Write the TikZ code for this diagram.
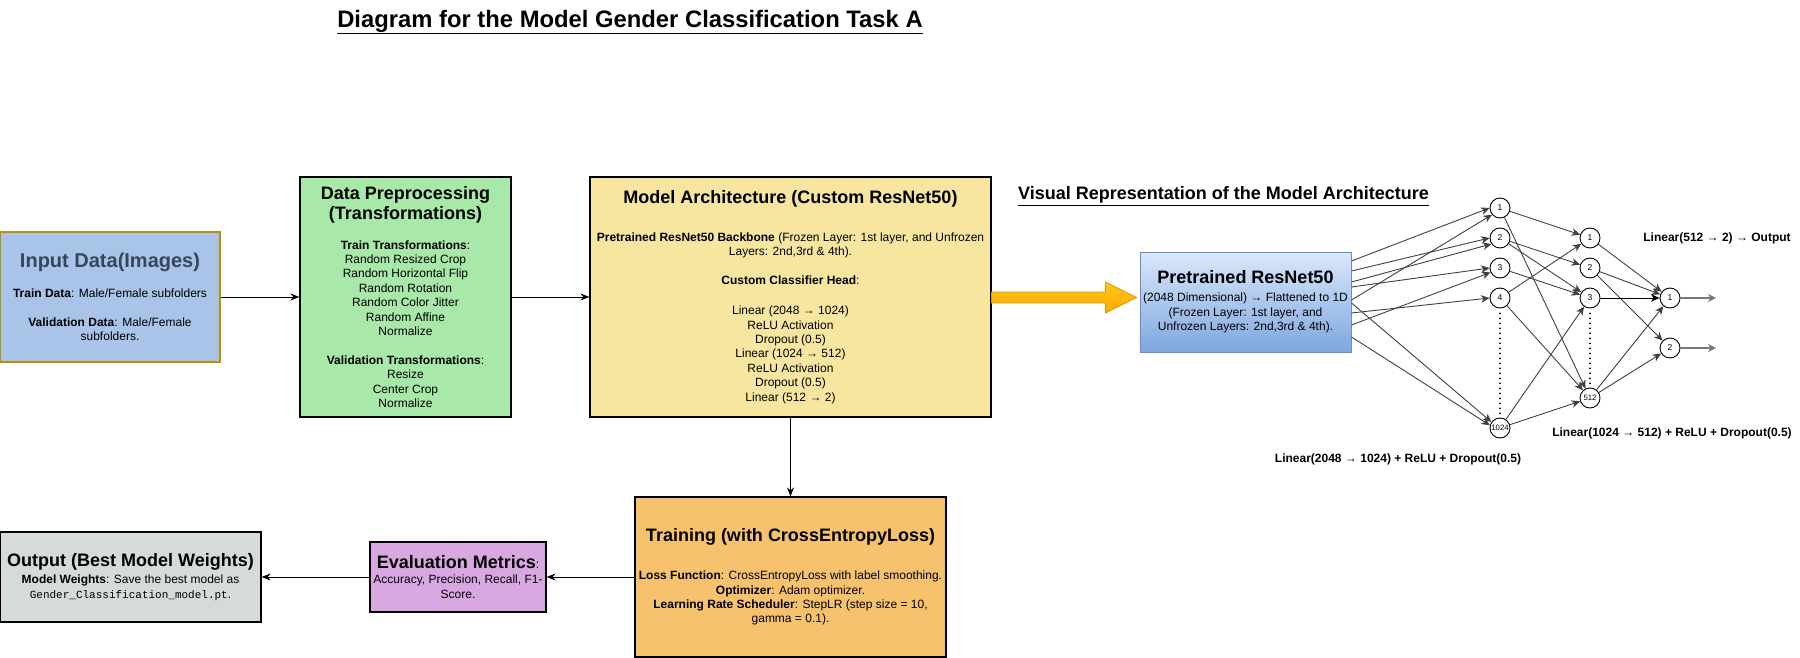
\documentclass[tikz,border=0pt]{standalone}
\usepackage{fontspec}
\setmainfont{Liberation Sans}
\setmonofont{Liberation Mono}
\usetikzlibrary{arrows.meta,calc}
\definecolor{inputfill}{RGB}{169,196,232}
\definecolor{inputdraw}{RGB}{180,150,0}
\definecolor{inputtext}{RGB}{55,70,90}
\definecolor{prepfill}{RGB}{168,232,168}
\definecolor{archfill}{RGB}{248,230,160}
\definecolor{trainfill}{RGB}{247,194,110}
\definecolor{evalfill}{RGB}{217,168,227}
\definecolor{outfill}{RGB}{213,219,219}
\definecolor{pretop}{RGB}{218,232,252}
\definecolor{prebot}{RGB}{126,166,224}
\definecolor{predraw}{RGB}{108,142,191}
\definecolor{orangetop}{RGB}{255,196,30}
\definecolor{orangebot}{RGB}{255,170,0}
\definecolor{orangedraw}{RGB}{215,155,0}
\definecolor{nnline}{RGB}{64,64,64}
\definecolor{outline}{RGB}{120,120,120}
\newcommand{\ttl}[1]{{\fontsize{18}{21.6}\selectfont\bfseries #1}}
\begin{document}
\begin{tikzpicture}[x=1pt,y=-1pt,
  box/.style={draw=black, line width=1.2pt, align=center, inner sep=0pt,
     font=\fontsize{12}{14.4}\selectfont},
  flow/.style={draw=black, line width=1pt, -{Stealth[length=9pt,width=7pt,inset=3pt]}},
  neuron/.style={circle, draw=black, fill=white, line width=0.9pt, minimum size=20pt,
     inner sep=0pt, font=\fontsize{8.5}{10}\selectfont},
  syn/.style={draw=nnline, line width=0.9pt, -{Stealth[length=8.5pt,width=7.5pt,inset=2.5pt]}},
  outarrow/.style={draw=outline, line width=1.8pt, -{Stealth[length=8pt,width=8pt,inset=2.5pt]}},
  nnlabel/.style={inner sep=0pt, font=\fontsize{12}{14.4}\selectfont\bfseries},
  heading/.style={inner sep=0pt, font=\fontsize{18}{21}\selectfont\bfseries},
  dotline/.style={line width=2pt, line cap=round, dash pattern=on 0pt off 5pt},
]
\useasboundingbox (0,0) rectangle (1800,658);

% title
\node[inner sep=0pt, font=\fontsize{23.8}{28}\selectfont\bfseries] (title) at (630,22)
  {\underline{Diagram for the Model Gender Classification Task A}};

% main flow boxes
\node[box, minimum width=220pt, minimum height=130pt, fill=inputfill, draw=inputdraw] (input) at (110,297)
  {{\fontsize{20}{24}\selectfont\bfseries\color{inputtext}Input Data(Images)}\\[15.6pt]
   \textbf{Train Data}: Male/Female subfolders\\[14.4pt]
   \textbf{Validation Data}: Male/Female\\
   subfolders.};

\node[box, minimum width=211pt, minimum height=240pt, fill=prepfill] (prep) at (405.5,297)
  {\ttl{Data Preprocessing}\\[2pt]
   \ttl{(Transformations)}\\[15.6pt]
   \textbf{Train Transformations}:\\
   Random Resized Crop\\
   Random Horizontal Flip\\
   Random Rotation\\
   Random Color Jitter\\
   Random Affine\\
   Normalize\\[14.4pt]
   \textbf{Validation Transformations}:\\
   Resize\\
   Center Crop\\
   Normalize};

\node[box, minimum width=401pt, minimum height=240pt, fill=archfill] (arch) at (790.5,297)
  {\ttl{Model Architecture (Custom ResNet50)}\\[23.6pt]
   \textbf{Pretrained ResNet50 Backbone} (Frozen Layer: 1st layer, and Unfrozen\\
   Layers: 2nd,3rd \& 4th).\\[14.4pt]
   \textbf{Custom Classifier Head}:\\[15.6pt]
   Linear (2048 → 1024)\\
   ReLU Activation\\
   Dropout (0.5)\\
   Linear (1024 → 512)\\
   ReLU Activation\\
   Dropout (0.5)\\
   Linear (512 → 2)};

\node[box, minimum width=311pt, minimum height=160pt, fill=trainfill] (train) at (790.5,577)
  {\ttl{Training (with CrossEntropyLoss)}\\[23.6pt]
   \textbf{Loss Function}: CrossEntropyLoss with label smoothing.\\
   \textbf{Optimizer}: Adam optimizer.\\
   \textbf{Learning Rate Scheduler}: StepLR (step size = 10,\\
   gamma = 0.1).};

\node[box, minimum width=176pt, minimum height=70pt, fill=evalfill] (eval) at (458,577)
  {\ttl{Evaluation Metrics}:\\[1pt]
   Accuracy, Precision, Recall, F1-\\
   Score.};

\node[box, minimum width=261pt, minimum height=90pt, fill=outfill] (out) at (130.5,577)
  {\ttl{Output (Best Model Weights)}\\[2.6pt]
   \textbf{Model Weights}: Save the best model as\\
   {\fontsize{11}{13}\selectfont\ttfamily Gender\_Classification\_model.pt}.};

% flow arrows
\draw[flow] (input.east |- 0,297) -- (prep.west |- 0,297);
\draw[flow] (prep.east |- 0,297) -- (arch.west |- 0,297);
\draw[flow] (arch.south) -- (train.north);
\draw[flow] (train.west) -- (eval.east);
\draw[flow] (eval.west) -- (out.east);

% visual representation
\node[heading] (vrhead) at (1223.5,196) {\underline{Visual Representation of the Model Architecture}};

\node[box, draw=predraw, line width=1pt, top color=pretop, bottom color=prebot,
      minimum width=211pt, minimum height=100pt] (pre) at (1245.5,302)
  {\ttl{Pretrained ResNet50}\\[3.6pt]
   (2048 Dimensional) → Flattened to 1D\\
   (Frozen Layer: 1st layer, and\\
   Unfrozen Layers: 2nd,3rd \& 4th).};

% big orange arrow
\coordinate (oa) at (arch.east |- 0,297.5);
\coordinate (ob) at ($(pre.west |- 0,297.5)+(-3,0)$);
\path[draw=orangedraw, line width=0.8pt, top color=orangetop, bottom color=orangebot]
  ($(oa)+(0,-5.5)$) -- ($(ob)+(-31,-5.5)$) -- ($(ob)+(-31,-15.5)$) -- (ob)
  -- ($(ob)+(-31,15.5)$) -- ($(ob)+(-31,5.5)$) -- ($(oa)+(0,5.5)$) -- cycle;

% neurons
\node[neuron] (a1) at (1500,208) {1};
\node[neuron] (a2) at (1500,238) {2};
\node[neuron] (a3) at (1500,268) {3};
\node[neuron] (a4) at (1500,298) {4};
\node[neuron, font=\fontsize{7.8}{9}\selectfont] (a5) at (1500,428) {1024};
\node[neuron] (b1) at (1590,238) {1};
\node[neuron] (b2) at (1590,268) {2};
\node[neuron] (b3) at (1590,298) {3};
\node[neuron, font=\fontsize{7.8}{9}\selectfont] (b4) at (1590,398) {512};
\node[neuron] (c1) at (1670,298) {1};
\node[neuron] (c2) at (1670,348) {2};

\draw[dotline] ($(a4.south)+(0,5)$) -- (a5.north);
\draw[dotline] ($(b3.south)+(0,5)$) -- (b4.north);

% box -> layer 1
\draw[syn] (pre.east |- 0,261) -- (a1.west);
\draw[syn] (pre.east |- 0,271) -- (a2.west);
\draw[syn] (pre.east |- 0,282) -- (a2.215);
\draw[syn] (pre.east |- 0,287) -- (a3.west);
\draw[syn] (pre.east |- 0,300) -- (a1.220);
\draw[syn] (pre.east |- 0,303) -- (a5.145);
\draw[syn] (pre.east |- 0,313) -- (a4.west);
\draw[syn] (pre.east |- 0,325) -- (a3.205);
\draw[syn] (pre.east |- 0,337) -- (a5.165);

% layer 1 -> layer 2
\draw[syn] (a1) -- (b1);
\draw[syn] (a1) -- (b4);
\draw[syn] (a2) -- (b2);
\draw[syn] (a2) -- (b3);
\draw[syn] (a3) -- (b3);
\draw[syn] (a4) -- (b1);
\draw[syn] (a4) -- (b4);
\draw[syn] (a5) -- (b3);
\draw[syn] (a5) -- (b4);

% layer 2 -> layer 3
\draw[syn] (b1) -- (c1);
\draw[syn] (b2) -- (c1);
\draw[syn] (b2) -- (c2);
\draw[syn, draw=black] (b3) -- (c1);
\draw[syn] (b4) -- (c1);
\draw[syn] (b4) -- (c2);

% outputs
\coordinate (o1) at (1716,298);
\coordinate (o2) at (1716,348);
\draw[outarrow] (c1) -- (o1);
\draw[outarrow] (c2) -- (o2);

% layer labels
\node[nnlabel] (l3) at (1717,238) {Linear(512 → 2) → Output};
\node[nnlabel] (l2) at (1672,433) {Linear(1024 → 512) + ReLU + Dropout(0.5)};
\node[nnlabel] (l1) at (1398,459) {Linear(2048 → 1024) + ReLU + Dropout(0.5)};
\end{tikzpicture}
\end{document}
